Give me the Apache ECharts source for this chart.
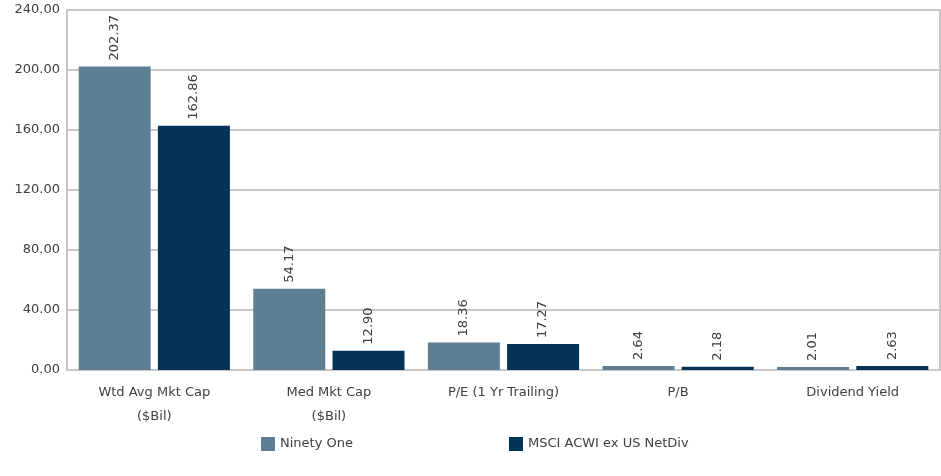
<!DOCTYPE html>
<html><head><meta charset="utf-8">
<script src="https://cdn.jsdelivr.net/npm/echarts@6/dist/echarts.min.js"></script>
<style>html,body{margin:0;padding:0;background:#fff}#c{width:941px;height:476px}</style>
</head><body><div id="c"></div>
<script>
const categories = ["Wtd Avg Mkt Cap\n($Bil)", "Med Mkt Cap\n($Bil)", "P/E (1 Yr Trailing)", "P/B", "Dividend Yield"];
const ninetyOne = [202.37, 54.17, 18.36, 2.64, 2.01];
const msci = [162.86, 12.90, 17.27, 2.18, 2.63];
const seriesNames = ["Ninety One", "MSCI ACWI ex US NetDiv"];
const yTicks = [0, 40, 80, 120, 160, 200, 240];

const font = "DejaVu Sans";
const chart = echarts.init(document.getElementById('c'), null, {renderer: 'canvas'});
const lbl = {
  show: true, position: 'top', rotate: 90, align: 'left', verticalAlign: 'middle',
  distance: 6, fontFamily: font, fontSize: 13, color: '#404040',
  formatter: p => p.value.toFixed(2)
};
chart.setOption({
  animation: false,
  textStyle: {fontFamily: font},
  grid: {left: 67, right: 1, top: 10, bottom: 106, show: true, borderColor: '#c8c8c8', borderWidth: 2},
  legend: {
    bottom: 20, left: 256, itemWidth: 14, itemHeight: 14, itemGap: 156,
    icon: 'rect',
    textStyle: {fontFamily: font, fontSize: 13, color: '#404040'},
    data: seriesNames
  },
  xAxis: {
    type: 'category', data: categories,
    axisLine: {lineStyle: {color: '#c8c8c8', width: 2}},
    axisTick: {show: false},
    axisLabel: {fontFamily: font, fontSize: 13, color: '#404040', margin: 11, lineHeight: 24, interval: 0}
  },
  yAxis: {
    type: 'value', min: yTicks[0], max: yTicks[yTicks.length - 1], interval: 40,
    axisLine: {show: true, lineStyle: {color: '#c8c8c8', width: 2}},
    axisTick: {show: false},
    splitLine: {lineStyle: {color: '#c8c8c8', width: 2}},
    axisLabel: {fontFamily: font, fontSize: 13, color: '#404040', margin: 7, formatter: v => v.toFixed(2)}
  },
  series: [
    {name: seriesNames[0], type: 'bar', data: ninetyOne, barWidth: 72, barGap: '10%',
     itemStyle: {color: '#5c7f93'}, label: lbl},
    {name: seriesNames[1], type: 'bar', data: msci, barWidth: 72, barGap: '10%',
     itemStyle: {color: '#033458'}, label: lbl}
  ]
});
</script></body></html>
